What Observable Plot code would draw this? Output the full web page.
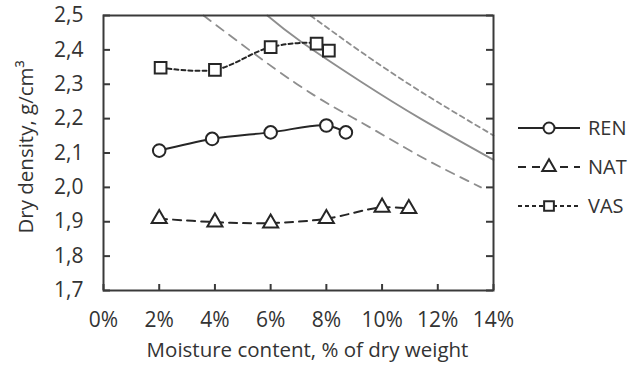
<!DOCTYPE html>
<html>
<head>
<meta charset="utf-8">
<script src="https://cdn.jsdelivr.net/npm/d3@7"></script>
<script src="https://cdn.jsdelivr.net/npm/@observablehq/plot@0.6"></script>
<style>
  body { margin: 0; background: white; }
  #wrap { position: relative; width: 643px; height: 367px; font-family: "Open Sans", sans-serif; }
  #legend { position: absolute; left: 0; top: 0; }
</style>
</head>
<body>
<div id="wrap"></div>
<script>
// ---- data ----
const xTicks = [0, 2, 4, 6, 8, 10, 12, 14];
const yTicks = [1.7, 1.8, 1.9, 2.0, 2.1, 2.2, 2.3, 2.4, 2.5];

const seriesNames = ["REN", "NAT", "VAS"];

const renX = [2.0, 3.9, 6.0, 8.0, 8.7];
const renY = [2.107, 2.141, 2.160, 2.180, 2.160];

const natX = [2.0, 4.0, 6.0, 8.0, 10.0, 10.96];
const natY = [1.909, 1.899, 1.896, 1.909, 1.942, 1.938];

const vasX = [2.05, 4.0, 6.0, 7.65, 8.09];
const vasY = [2.348, 2.342, 2.408, 2.418, 2.398];

// gray reference curves
const curveSolidX = [5.88, 7.07, 9.23, 11.38, 14.0];
const curveSolidY = [2.500, 2.425, 2.308, 2.200, 2.080];

const curveShortX = [7.43, 9.23, 11.38, 14.0];
const curveShortY = [2.500, 2.395, 2.279, 2.151];

const curveLongX = [3.59, 6.95, 9.23, 11.38, 13.55];
const curveLongY = [2.500, 2.300, 2.190, 2.090, 2.000];

// ---- build tables ----
const zip = (xs, ys) => xs.map((x, i) => ({x, y: ys[i]}));
const ren = zip(renX, renY), nat = zip(natX, natY), vas = zip(vasX, vasY);
const cSolid = zip(curveSolidX, curveSolidY);
const cShort = zip(curveShortX, curveShortY);
const cLong = zip(curveLongX, curveLongY);

const ink = "#262626";
const frameInk = "#3a3a3a";
const gray = "#8e8e8e";
const W = 643, H = 367, mL = 103, mR = 150, mT = 15, mB = 77;
const fw = W - mL - mR, fh = H - mT - mB;

const chart = Plot.plot({
  width: W, height: H,
  marginLeft: mL, marginRight: mR, marginTop: mT, marginBottom: mB,
  style: {"font-family": "Open Sans", "font-size": "21px", "color": "#333", "background": "white", "overflow": "visible"},
  x: {domain: [0, 14]},
  y: {domain: [1.7, 2.5]},
  marks: [
    // gray curves
    Plot.line(cSolid, {x: "x", y: "y", stroke: gray, strokeWidth: 1.8, curve: "natural"}),
    Plot.line(cShort, {x: "x", y: "y", stroke: gray, strokeWidth: 1.8, strokeDasharray: "5,4", curve: "natural"}),
    Plot.line(cLong, {x: "x", y: "y", stroke: gray, strokeWidth: 1.8, strokeDasharray: "9,7", curve: "natural"}),
    // series lines
    Plot.line(ren, {x: "x", y: "y", stroke: ink, strokeWidth: 2, curve: "catmull-rom"}),
    Plot.line(nat, {x: "x", y: "y", stroke: ink, strokeWidth: 2, strokeDasharray: "8,6", curve: "catmull-rom"}),
    Plot.line(vas, {x: "x", y: "y", stroke: ink, strokeWidth: 2, strokeDasharray: "4,3", curve: "catmull-rom"}),
    // markers
    Plot.dot(ren, {x: "x", y: "y", r: 6.3, symbol: "circle", stroke: ink, strokeWidth: 2, fill: "white"}),
    Plot.dot(nat, {x: "x", y: "y", r: 5.6, symbol: "triangle", stroke: ink, strokeWidth: 2, fill: "white"}),
    Plot.dot(vas, {x: "x", y: "y", r: 6.6, symbol: "square", stroke: ink, strokeWidth: 2, fill: "white"}),
    // inward tick marks
    Plot.gridX(xTicks, {stroke: frameInk, strokeOpacity: 1, strokeWidth: 2, insetTop: fh - 6}),
    Plot.gridY(yTicks, {stroke: frameInk, strokeOpacity: 1, strokeWidth: 2, insetRight: fw - 7}),
    Plot.gridY(yTicks, {stroke: frameInk, strokeOpacity: 1, strokeWidth: 2, insetLeft: fw - 7}),
    Plot.frame({stroke: frameInk, strokeWidth: 2}),
    // tick labels
    Plot.axisX(xTicks, {tickSize: 0, tickPadding: 22, tickFormat: d => d + "%", label: null, fill: "#333", fontSize: 21}),
    Plot.axisY(yTicks, {tickSize: 0, tickPadding: 20, tickFormat: d => d.toFixed(1).replace(".", ","), label: null, fill: "#333", fontSize: 21}),
    // axis titles
    Plot.text(["Moisture content, % of dry weight"], {frameAnchor: "bottom", textAnchor: "middle", dy: 66, dx: 9, fill: "#333", fontSize: 20.5}),
    Plot.text(["Dry density, g/cm³"], {frameAnchor: "left", textAnchor: "middle", dx: -77, dy: -6, rotate: -90, fill: "#333", fontSize: 20.5})
  ]
});

const wrap = document.getElementById("wrap");
wrap.appendChild(chart);

// ---- legend ----
const styles = [
  {name: seriesNames[0], dash: null, symbol: d3.symbolCircle, size: Math.PI * 5.5 * 5.5},
  {name: seriesNames[1], dash: "8,6", symbol: d3.symbolTriangle, size: Math.PI * 5 * 5},
  {name: seriesNames[2], dash: "4,3", symbol: d3.symbolSquare, size: Math.PI * 5.5 * 5.5}
];
const rowY = [128, 167, 206];
const lg = d3.select(wrap).append("svg")
  .attr("id", "legend")
  .attr("width", W).attr("height", H)
  .style("pointer-events", "none");
styles.forEach((s, i) => {
  const g = lg.append("g").attr("transform", `translate(0,${rowY[i]})`);
  g.append("line").attr("x1", 518).attr("x2", 580).attr("y1", 0).attr("y2", 0)
    .attr("stroke", ink).attr("stroke-width", 2)
    .attr("stroke-dasharray", s.dash);
  g.append("path").attr("d", d3.symbol(s.symbol, s.size)())
    .attr("transform", "translate(549,0)")
    .attr("fill", "white").attr("stroke", ink).attr("stroke-width", 2);
  g.append("text").attr("x", 588).attr("y", 0).attr("dy", "0.36em")
    .attr("fill", "#333").style("font-family", "Open Sans").style("font-size", "20px")
    .text(s.name);
});
</script>
</body>
</html>
